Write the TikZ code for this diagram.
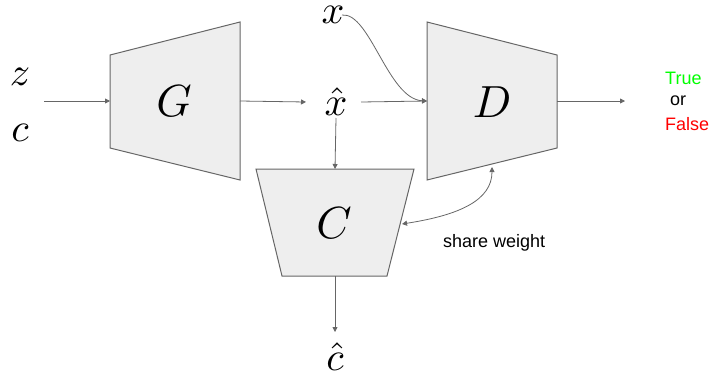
\documentclass[tikz,border=0pt]{standalone}
\usepackage{fontspec}
\usepackage{graphicx}
\setsansfont{Liberation Sans}
\usetikzlibrary{arrows.meta}
\definecolor{boxfill}{HTML}{EEEEEE}
\definecolor{edgegray}{HTML}{666666}
\definecolor{truegreen}{HTML}{00FF00}
\definecolor{falsered}{HTML}{FF0000}
\newcommand{\lowm}[1]{\scalebox{4}{$#1$}}
\newcommand{\capm}[1]{\scalebox{4.5}{$#1$}}
\begin{document}
\begin{tikzpicture}[x=1pt,y=-1pt,
  block/.style={draw=edgegray,fill=boxfill,line width=1pt,line join=miter},
  arr/.style={draw=edgegray,line width=0.8pt,-{Triangle[length=5pt,width=5pt]}},
  darr/.style={draw=edgegray,line width=0.8pt,{Triangle[length=5pt,width=5pt]}-{Triangle[length=5pt,width=5pt]}},
  mlbl/.style={inner sep=2pt},
  txt/.style={inner sep=0pt,font=\sffamily\fontsize{18}{22}\selectfont}]
\useasboundingbox (0,0) rectangle (712,378);
% blocks
\draw[block] (110,55) -- (240,22) -- (240,180) -- (110,148) -- cycle;
\draw[block] (427,22) -- (557,55) -- (557,148) -- (427,180) -- cycle;
\draw[block] (256,169) -- (414,169) -- (387,276) -- (282,276) -- cycle;
% anchor points
\coordinate (Gin) at (110,101);
\coordinate (Gout) at (240,101);
\coordinate (Din) at (427,101);
\coordinate (Dout) at (557,101);
\coordinate (Dbot) at (492,167);
\coordinate (Ctop) at (335,169);
\coordinate (Cbot) at (335,276);
\coordinate (Cright) at (402,224);
\coordinate (inStart) at (44,101);
\coordinate (outEnd) at (625,101);
% labels
\node[mlbl] (G) at (174,101) {\capm{G}};
\node[mlbl] (D) at (492,102) {\capm{D}};
\node[mlbl] (C) at (334,223) {\capm{C}};
\node[mlbl] (z) at (20,77) {\lowm{z}};
\node[mlbl] (c) at (20,133) {\lowm{c}};
\node[mlbl] (x) at (333,15) {\lowm{x}};
\node[mlbl] (xh) at (336,102) {\lowm{\hat{x}}};
\node[mlbl] (ch) at (335,357) {\lowm{\hat{c}}};
\node[txt,anchor=west,text=truegreen] (tr) at (665,78) {True};
\node[txt,anchor=west] (or) at (670,101) {or};
\node[txt,anchor=west,text=falsered] (fa) at (665,124) {False};
\node[txt,anchor=west] (sw) at (443,243) {share weight};
% connectors
\draw[arr] (inStart) -- (Gin);
\draw[arr] (Gout) -- ([xshift=-30pt]xh.center);
\draw[arr] ([xshift=25pt]xh.center) -- (Din);
\draw[arr] ([xshift=9pt]x.center) .. controls (370,12) and (388,99) .. (Din);
\draw[arr] (Dout) -- (outEnd);
\draw[arr] ([yshift=-16pt]xh.center) -- (Ctop);
\draw[arr] (Cbot) -- ([yshift=25pt]ch.center);
\draw[darr] (Cright) .. controls (460,215) and (492,200) .. (Dbot);
\end{tikzpicture}
\end{document}
